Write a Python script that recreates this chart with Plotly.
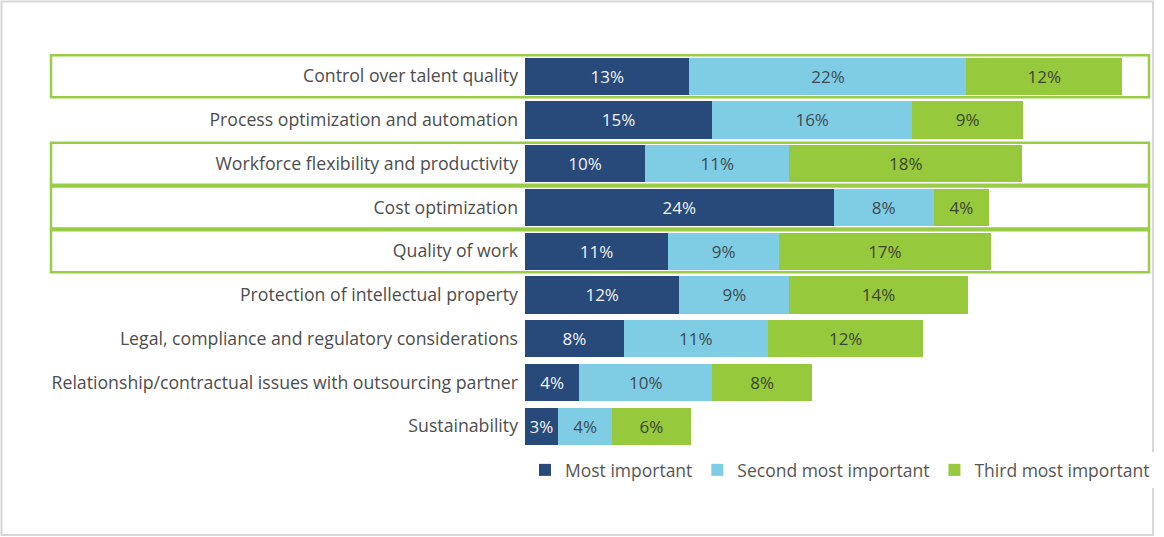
import plotly.graph_objects as go

categories = [
    "Control over talent quality",
    "Process optimization and automation",
    "Workforce flexibility and productivity",
    "Cost optimization",
    "Quality of work",
    "Protection of intellectual property",
    "Legal, compliance and regulatory considerations",
    "Relationship/contractual issues with outsourcing partner",
    "Sustainability",
]
# values; printed labels are the rounded figures
most_important = [13.0, 14.8, 9.5, 24.4, 11.3, 12.2, 7.8, 4.3, 2.6]
second_most = [21.9, 15.8, 11.4, 7.9, 8.8, 8.7, 11.4, 10.5, 4.3]
third_most = [12.3, 8.8, 18.4, 4.4, 16.7, 14.1, 12.3, 7.9, 6.2]
series_names = ["Most important", "Second most important", "Third most important"]
highlighted = [0, 2, 3, 4]

NAVY = "#274a7a"
LBLUE = "#7fcde4"
GREEN = "#97c93d"
BOX = "#9acd45"

W, H = 1164, 537
L, R = 525, 1150
T, B = 54, 448

def px_x(p):
    return (p - L) / (R - L)

def px_y(p):
    return (B - p) / (B - T)

fig = go.Figure()
for name, vals, col, tcol in [
    (series_names[0], most_important, NAVY, "#f2f2f2"),
    (series_names[1], second_most, LBLUE, "#404a50"),
    (series_names[2], third_most, GREEN, "#3c4530"),
]:
    fig.add_trace(go.Bar(
        y=categories, x=vals, name=name, orientation="h",
        marker=dict(color=col, line=dict(width=0)),
        text=[f"{round(v)}%" for v in vals], textposition="inside",
        insidetextanchor="middle", textangle=0,
        textfont=dict(color=tcol, size=17, family="Open Sans"),
        hoverinfo="skip",
    ))

shapes = []
for i in highlighted:
    shapes.append(dict(
        type="rect", xref="paper", yref="y",
        x0=px_x(51), x1=px_x(1149), y0=i - 0.48, y1=i + 0.48,
        line=dict(color=BOX, width=2.5), fillcolor="rgba(0,0,0,0)", layer="above",
    ))
shapes.append(dict(
    type="rect", xref="paper", yref="paper",
    x0=px_x(1.5), x1=px_x(1153), y0=px_y(1.5), y1=px_y(535),
    line=dict(color="#d6d6d6", width=2), fillcolor="rgba(0,0,0,0)",
))

fig.update_layout(
    width=W, height=H, barmode="stack", bargap=0.15,
    margin=dict(l=L, r=W - R, t=T, b=H - B),
    paper_bgcolor="white", plot_bgcolor="white",
    font=dict(family="Open Sans", color="#4d4d4d", size=17.7),
    xaxis=dict(range=[0, (R - L) / 12.65], visible=False, fixedrange=True),
    yaxis=dict(autorange="reversed", showgrid=False, zeroline=False, showline=False,
               ticks="", ticklabelstandoff=6, fixedrange=True,
               tickfont=dict(size=17.7, color="#4d4d4d", family="Open Sans")),
    showlegend=True,
    legend=dict(orientation="h", x=px_x(525), xanchor="left", y=px_y(470), yanchor="middle",
                font=dict(size=17.5, color="#555555", family="Open Sans"),
                traceorder="normal", itemwidth=30),
    uniformtext=dict(minsize=14, mode="show"),
    shapes=shapes,
)

fig.write_html("out.html", config={"displayModeBar": False},
               post_script="document.body.style.margin='0';document.body.style.padding='0';")
